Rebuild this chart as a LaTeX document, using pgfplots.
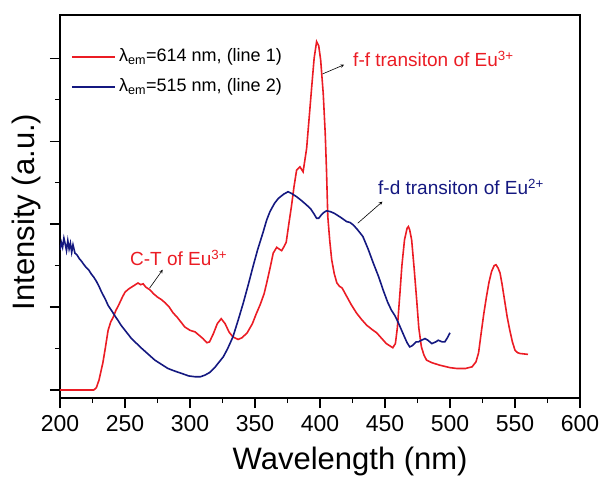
\documentclass[border=0pt]{standalone}
\usepackage{pgfplots}
\pgfplotsset{compat=1.18}
\usepackage{fontspec}
\setmainfont{Liberation Sans}
\definecolor{myred}{RGB}{235,28,36}
\definecolor{mynavy}{RGB}{20,24,128}
\begin{document}
\begin{tikzpicture}
\useasboundingbox (-60pt,-79pt) rectangle (542pt,398pt);
\begin{axis}[
  at={(0,0)}, anchor=south west,
  scale only axis, width=520pt, height=383pt,
  xmin=200, xmax=600, ymin=-0.096, ymax=4.52,
  xtick={200,250,...,600}, minor x tick num=1,
  ytick={0,1,2,3,4}, minor y tick num=1, yticklabels={},
  tick align=outside, xtick pos=bottom, ytick pos=left,
  major tick length=10pt, minor tick length=5pt,
  every tick/.style={black, line width=1.2pt},
  axis line style={line width=1.4pt},
  /pgf/number format/assume math mode=true,
  /pgf/number format/1000 sep={},
  tick label style={font=\fontsize{23}{27}\selectfont},
  xticklabel style={yshift=-4pt},
  xlabel={Wavelength (nm)},
  ylabel={Intensity (a.u.)},
  xlabel style={font=\fontsize{31}{36}\selectfont, at={(axis description cs:0.558,-0.167)}, anchor=center},
  ylabel style={font=\fontsize{31}{36}\selectfont, at={(axis description cs:-0.065,0.486)}, anchor=center, rotate=0},
]
\addplot[myred, line width=1.6pt] coordinates {
(200,0) (215,0) (226,0) (228,0.03) (230,0.12) (233,0.33) (235,0.52) (237,0.72)
(239,0.82) (241,0.88) (243,0.96) (245,1.02) (248,1.12) (250,1.18) (253,1.22)
(256,1.25) (258,1.27) (260,1.29) (262,1.27) (264,1.28) (266,1.24) (269,1.21)
(272,1.16) (275,1.12) (278,1.09) (281,1.05) (284,1.00) (287,0.93) (290,0.88)
(293,0.82) (296,0.76) (300,0.72) (304,0.70) (307,0.66) (310,0.62) (313,0.57)
(315,0.58) (318,0.68) (321,0.80) (324,0.86) (327,0.80) (330,0.70) (333,0.64)
(337,0.61) (340,0.63) (344,0.69) (348,0.80) (351,0.92) (354,1.03) (357,1.16)
(359,1.29) (362,1.50) (364,1.65) (366.7,1.72) (368.5,1.70) (370.5,1.68) (372,1.72)
(374,1.78) (376,2.00) (378,2.21) (380,2.45) (382,2.65) (384.6,2.69) (387,2.63)
(389.7,2.91) (391.5,3.25) (393.6,3.65) (395.5,4.0) (397.4,4.20) (399,4.15)
(400.5,3.98) (402.5,3.57) (404,3.1) (405,2.65) (406,2.09) (407.5,1.8) (409,1.57)
(411,1.40) (413,1.29) (415,1.25) (417,1.23) (420.5,1.13) (424,1.03) (428,0.93)
(432,0.85) (436,0.78) (440,0.73) (443.6,0.69) (447,0.63) (451,0.56) (456,0.51)
(458,0.56) (459.5,0.75) (461.5,1.17) (463,1.50) (465,1.81) (467,1.95) (468,1.97)
(469,1.93) (470.5,1.81) (472.5,1.45) (474.4,1.08) (476,0.75) (478,0.52) (480,0.42)
(482,0.36) (486,0.33) (492,0.30) (500,0.27) (505,0.26) (512,0.26) (517,0.28)
(520,0.34) (522,0.45) (524,0.69) (526,0.92) (528,1.12) (530,1.30) (532,1.43)
(534,1.50) (535.4,1.51) (537,1.47) (538.5,1.41) (540,1.28) (542,1.08) (544,0.88)
(546,0.72) (548,0.58) (550,0.48) (552,0.45) (554,0.44) (560,0.43)
};
\addplot[mynavy, line width=1.6pt] coordinates {
(200,1.69) (201,1.78) (202,1.72) (203,1.83) (204,1.76) (205,1.68) (206,1.80)
(207,1.70) (208,1.77) (209,1.66) (210,1.75) (211.5,1.65) (213,1.63) (215,1.58)
(216.7,1.55) (218,1.52) (220,1.48) (222,1.45) (224,1.40) (226,1.36) (228,1.31)
(230,1.25) (232,1.18) (235,1.09) (237,1.02) (240,0.95) (242,0.90) (245,0.83)
(247,0.78) (251,0.70) (255,0.62) (259,0.56) (263,0.50) (268,0.43) (273,0.36)
(278,0.31) (283,0.26) (288,0.23) (293.6,0.20) (299,0.17) (304,0.16) (308,0.16)
(311.5,0.18) (315,0.21) (319,0.27) (322,0.33) (325.6,0.40) (329,0.50) (333,0.64)
(337,0.84) (341,1.05) (345,1.28) (348.5,1.49) (352,1.69) (356,1.89) (359,2.05)
(361.5,2.15) (365,2.25) (368,2.31) (372,2.36) (375.4,2.39) (378,2.37) (382,2.33)
(386,2.28) (389.7,2.23) (393,2.18) (395.5,2.12) (397.4,2.07) (399,2.07) (401,2.11)
(403,2.14) (405,2.16) (408,2.15) (411,2.13) (413,2.11) (416,2.08) (420.5,2.03)
(423,2.02) (425.6,1.99) (429,1.93) (433,1.85) (437,1.70) (441,1.53) (445,1.37)
(448.7,1.20) (452,1.06) (455,0.96) (457.5,0.90) (460,0.82) (462.5,0.73) (465,0.64)
(467,0.57) (469,0.52) (470.5,0.53) (472,0.55) (474,0.58) (475.6,0.58) (478,0.60)
(480.8,0.62) (483,0.60) (486,0.56) (489,0.58) (491,0.60) (494,0.58) (496,0.58)
(498,0.63) (500,0.69)
};
% legend
\draw[myred, line width=1.6pt] (axis description cs:0.023,0.890) -- (axis description cs:0.106,0.890);
\draw[mynavy, line width=1.6pt] (axis description cs:0.023,0.812) -- (axis description cs:0.106,0.812);
\node[anchor=west, inner sep=0pt, font=\fontsize{18}{21}\selectfont] at (axis description cs:0.1135,0.890) {λ\textsubscript{em}=614 nm, (line 1)};
\node[anchor=west, inner sep=0pt, font=\fontsize{18}{21}\selectfont] at (axis description cs:0.1135,0.812) {λ\textsubscript{em}=515 nm, (line 2)};
% annotations
\node[anchor=west, text=myred, font=\fontsize{19}{22}\selectfont, inner sep=0pt] at (axis cs:253.8,1.59) {C-T of Eu\textsuperscript{3+}};
\node[anchor=west, text=myred, font=\fontsize{19}{22}\selectfont, inner sep=0pt] at (axis cs:425.4,3.99) {f-f transiton of Eu\textsuperscript{3+}};
\node[anchor=west, text=mynavy, font=\fontsize{19}{22}\selectfont, inner sep=0pt] at (axis cs:444.6,2.45) {f-d transiton of Eu\textsuperscript{2+}};
\draw[-stealth, black, line width=0.6pt] (axis cs:269,1.23) -- (axis cs:279,1.45);
\draw[-stealth, black, line width=0.6pt] (axis cs:402,3.81) -- (axis cs:418.5,3.92);
\draw[-stealth, black, line width=0.6pt] (axis cs:429,2.01) -- (axis cs:448,2.27);
\end{axis}
\end{tikzpicture}
\end{document}
